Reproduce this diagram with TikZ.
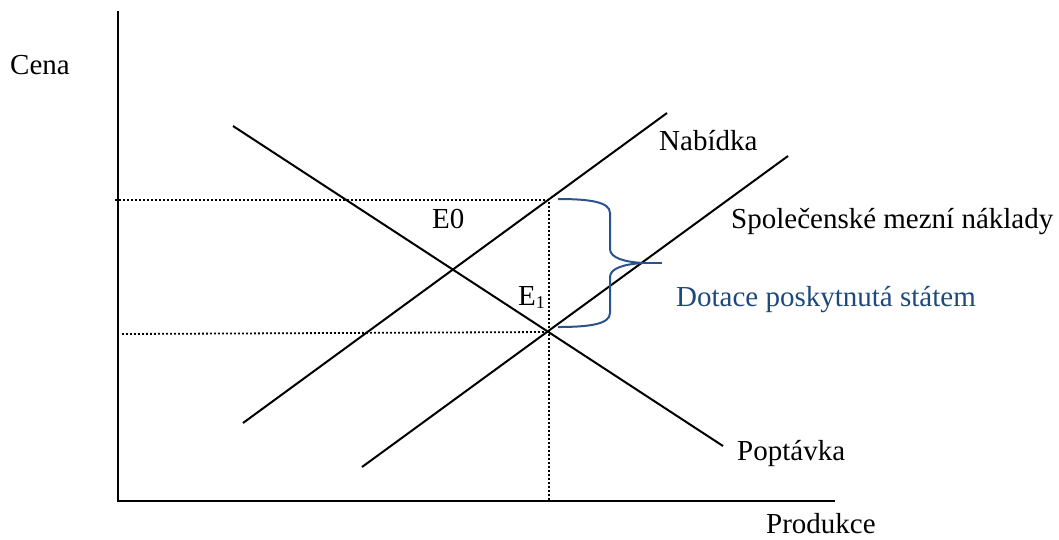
\documentclass[tikz,border=0pt]{standalone}
\usepackage{fontspec}
\setmainfont{Liberation Serif}
\definecolor{dotblue}{RGB}{31,73,125}
\definecolor{braceblue}{RGB}{44,82,140}
\begin{document}
\begin{tikzpicture}[x=1pt,y=-1pt,
  lbl/.style={anchor=base west,inner sep=0pt,font=\fontsize{29}{34}\selectfont},
  axis/.style={line width=2.4pt,black},
  curve/.style={line width=2pt,black},
  guide/.style={line width=1.8pt,black,dash pattern=on 1.8pt off 2.2pt}]
\useasboundingbox (0,0) rectangle (1059,539);
% axes
\coordinate (ytop) at (118,11);
\coordinate (orig) at (118,501);
\coordinate (xend) at (835,501);
\draw[axis] (ytop) -- (orig) -- (xend);
% curves
\coordinate (s1) at (243,423);
\coordinate (s2) at (667,113);
\coordinate (m1) at (362,467);
\coordinate (m2) at (788,156);
\coordinate (d1) at (233,126);
\coordinate (d2) at (723,446);
\draw[curve] (s1) -- (s2);
\draw[curve] (m1) -- (m2);
\draw[curve] (d1) -- (d2);
% guides
\coordinate (gt0) at (115,200);
\coordinate (gt1) at (549,200);
\coordinate (gb0) at (122,334);
\coordinate (gb1) at (549,332);
\coordinate (gv) at (549,500);
\draw[guide] (gt0) -- (gt1) -- (gv);
\draw[guide] (gb0) -- (gb1);
% brace
\draw[braceblue,line width=2pt,line join=round]
  (558,199) .. controls (590,199) and (610,202) .. (610,213)
  -- (610,249) .. controls (610,258) and (625,262) .. (643,263)
  .. controls (625,264) and (610,268) .. (610,277)
  -- (610,313) .. controls (610,324) and (590,327) .. (558,327);
\draw[braceblue,line width=2.6pt] (640,263) -- (662,263);
% labels
\node[lbl] (cena) at (10,74) {Cena};
\node[lbl] (nab) at (659,150) {Nabídka};
\node[lbl] (smn) at (731,228) {Společenské mezní náklady};
\node[lbl] (e0) at (432,228) {E0};
\node[lbl] (e1) at (518,305) {E\raisebox{-0.25ex}{\fontsize{18}{20}\selectfont 1}};
\node[lbl,text=dotblue] (dot) at (676,306) {Dotace poskytnutá státem};
\node[lbl] (pop) at (737,460) {Poptávka};
\node[lbl] (prod) at (766,533) {Produkce};
\end{tikzpicture}
\end{document}
